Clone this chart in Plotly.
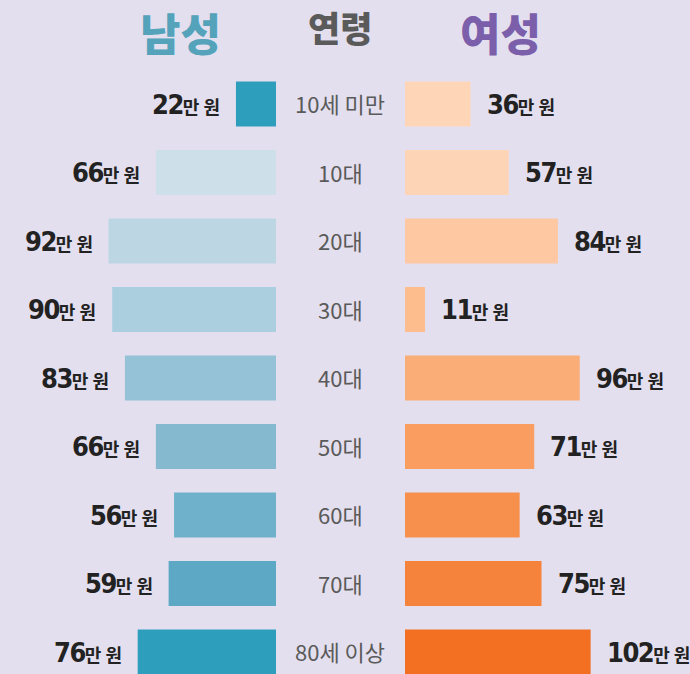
import plotly.graph_objects as go

ages = ["10세 미만", "10대", "20대", "30대", "40대", "50대", "60대", "70대", "80세 이상"]
male = [22, 66, 92, 90, 83, 66, 56, 59, 76]
female = [36, 57, 84, 11, 96, 71, 63, 75, 102]
male_colors = ["#2e9ebd", "#cde0ea", "#bcd7e3", "#accfdf", "#96c2d7", "#84b9d0", "#6fb1ca", "#5da9c5", "#2e9ebd"]
female_colors = ["#fed5b7", "#fed4b6", "#fdc8a2", "#fdbd8d", "#fbad77", "#f99d61", "#f78f4d", "#f6833b", "#f37022"]
unit = "만 원"

BG = "#e3dfee"
W, H = 690, 674
PX = 1.82  # pixels per value unit

fig = go.Figure()
fig.add_trace(go.Bar(y=ages, x=male, orientation="h", xaxis="x", yaxis="y",
                     marker=dict(color=male_colors, line=dict(width=0)), width=0.66,
                     hoverinfo="skip"))
fig.add_trace(go.Bar(y=ages, x=female, orientation="h", xaxis="x2", yaxis="y",
                     marker=dict(color=female_colors, line=dict(width=0)), width=0.66,
                     hoverinfo="skip"))

male_dom = [0, 276 / W]
fem_dom = [405 / W, 1]
ann = []
def label(v):
    return (f"<span style=\"font-family:DejaVu Sans Condensed, DejaVu Sans;font-stretch:condensed;"
            f"font-size:27px;font-weight:bold;letter-spacing:-1.5px\">{v}</span>"
            f"<span style=\"font-size:18px;font-weight:bold\">{unit}</span>")

for a, v in zip(ages, male):
    ann.append(dict(x=v, y=a, xref="x", yref="y", text=label(v), showarrow=False,
                    xanchor="right", xshift=-14, font=dict(family="Noto Sans CJK KR", color="#222222", size=18)))
for a, v in zip(ages, female):
    ann.append(dict(x=v, y=a, xref="x2", yref="y", text=label(v), showarrow=False,
                    xanchor="left", xshift=14, font=dict(family="Noto Sans CJK KR", color="#222222", size=18)))
for a in ages:
    ann.append(dict(x=340 / W, y=a, xref="paper", yref="y", text=a, showarrow=False,
                    xanchor="center", yshift=1, font=dict(family="Noto Sans CJK KR", color="#5a5a5a", size=22)))

titles = [("남성", 180, 32, "#55a3bb", 44), ("연령", 340, 27, "#5a5a5a", 35), ("여성", 500, 32, "#7b5fab", 44)]
for t, xp, yp, c, s in titles:
    ann.append(dict(x=xp / W, y=1 - yp / H, xref="paper", yref="paper", text=t,
                    showarrow=False, xanchor="center", yanchor="middle",
                    font=dict(family="Noto Sans CJK KR", color=c, size=s, weight=900)))

fig.update_layout(
    width=W, height=H, margin=dict(l=0, r=0, t=0, b=0),
    paper_bgcolor=BG, plot_bgcolor=BG, showlegend=False,
    xaxis=dict(domain=male_dom, range=[276 / PX, 0], visible=False, fixedrange=True),
    xaxis2=dict(domain=fem_dom, range=[0, 285 / PX], visible=False, fixedrange=True),
    yaxis=dict(range=[8 + 22 / 68.5, -104 / 68.5], visible=False, type="category",
               categoryorder="array", categoryarray=ages, fixedrange=True),
    annotations=ann,
)
fig.write_html("out.html", config={"displayModeBar": False},
               post_script="document.body.style.margin='0';document.body.style.overflow='hidden';")
